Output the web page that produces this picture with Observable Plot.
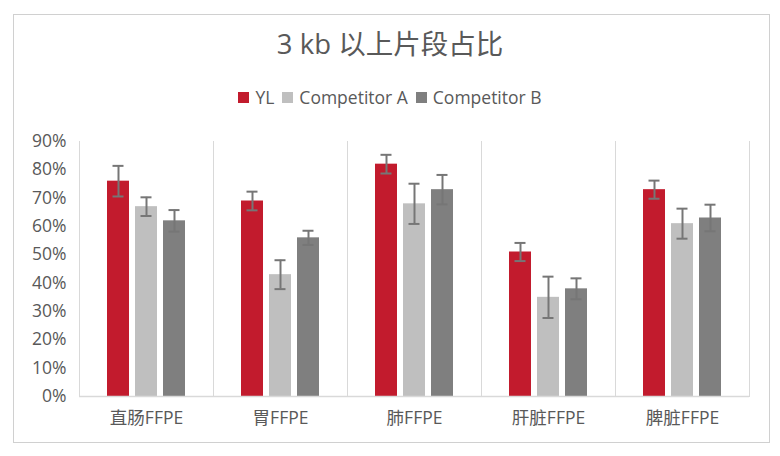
<!DOCTYPE html>
<html>
<head>
<meta charset="utf-8">
<script src="https://cdn.jsdelivr.net/npm/d3@7"></script>
<script src="https://cdn.jsdelivr.net/npm/@observablehq/plot@0.6"></script>
<style>
  html, body { margin: 0; padding: 0; background: #fff; }
  #wrap { position: relative; width: 780px; height: 456px; font-family: "Open Sans", "Noto Sans CJK SC", sans-serif; color: #595959; }
  #border { position: absolute; left: 13px; top: 14px; width: 757px; height: 429px; border: 1px solid #d0d0d0; box-sizing: border-box; }
  #title { position: absolute; left: 0; width: 780px; top: 25px; text-align: center; font-size: 27.5px; line-height: 38px; color: #595959; }
  #legend { position: absolute; left: 0; width: 780px; top: 85px; display: flex; justify-content: center; align-items: center; font-size: 17.5px; line-height: 24px; color: #595959; }
  .item { display: flex; align-items: center; margin: 0 4px; }
  .sw { width: 11px; height: 11px; margin-right: 6px; }
  #chart { position: absolute; left: 0; top: 110px; }
</style>
</head>
<body>
<div id="wrap">
  <div id="border"></div>
  <div id="title">3 kb 以上片段占比</div>
  <div id="legend"></div>
  <div id="chart"></div>
</div>
<script>
const categories = ["直肠FFPE", "胃FFPE", "肺FFPE", "肝脏FFPE", "脾脏FFPE"];
const series = ["YL", "Competitor A", "Competitor B"];
const colors = ["#C21B2D", "#BFBFBF", "#7F7F7F"];
const yl = [76, 69, 82, 51, 73];
const compA = [67, 43, 68, 35, 61];
const compB = [62, 56, 73, 38, 63];
const ylErr = [5.4, 3.3, 3.3, 3.2, 3.2];
const compAErr = [3.3, 5.1, 7.1, 7.3, 5.3];
const compBErr = [3.8, 2.5, 5.2, 3.7, 4.7];
const yTicks = [0, 10, 20, 30, 40, 50, 60, 70, 80, 90];

const values = [yl, compA, compB];
const errs = [ylErr, compAErr, compBErr];
const data = categories.flatMap((c, i) => series.map((s, j) => ({
  category: c, series: s, value: values[j][i], err: errs[j][i]
})));

const legend = document.getElementById("legend");
series.forEach((s, j) => {
  const it = document.createElement("div");
  it.className = "item";
  it.innerHTML = `<span class="sw" style="background:${colors[j]}"></span><span>${s}</span>`;
  legend.appendChild(it);
});

const chart = Plot.plot({
  width: 780,
  height: 346,
  marginTop: 31,
  marginBottom: 60,
  marginLeft: 77,
  marginRight: 30,
  style: { fontSize: "17.5px", fontFamily: "'Open Sans', 'Noto Sans CJK SC', sans-serif", color: "#595959", background: "transparent" },
  fx: { domain: categories, padding: 0, label: null, tickSize: 0, tickPadding: 15 },
  x: { domain: series, axis: null, paddingInner: 0.216, paddingOuter: 0.953 },
  y: { domain: [0, 90], ticks: yTicks, tickFormat: d => d + "%", tickSize: 0, tickPadding: 13, label: null },
  color: { domain: series, range: colors },
  marks: [
    Plot.frame({ anchor: "left", stroke: "#d9d9d9" }),
    Plot.frame({ anchor: "right", stroke: "#d9d9d9" }),
    Plot.barY(data, { fx: "category", x: "series", y: "value", fill: "series" }),
    Plot.ruleY([0], { stroke: "#d9d9d9", strokeWidth: 1.5 }),
    Plot.ruleX(data, { fx: "category", x: "series", y1: d => d.value - d.err, y2: d => d.value + d.err, stroke: "#767676", strokeWidth: 2 }),
    Plot.tickY(data, { fx: "category", x: "series", y: d => d.value + d.err, insetLeft: 5.5, insetRight: 5.5, stroke: "#767676", strokeWidth: 2 }),
    Plot.tickY(data, { fx: "category", x: "series", y: d => d.value - d.err, insetLeft: 5.5, insetRight: 5.5, stroke: "#767676", strokeWidth: 2 })
  ]
});
document.getElementById("chart").appendChild(chart);
</script>
</body>
</html>
